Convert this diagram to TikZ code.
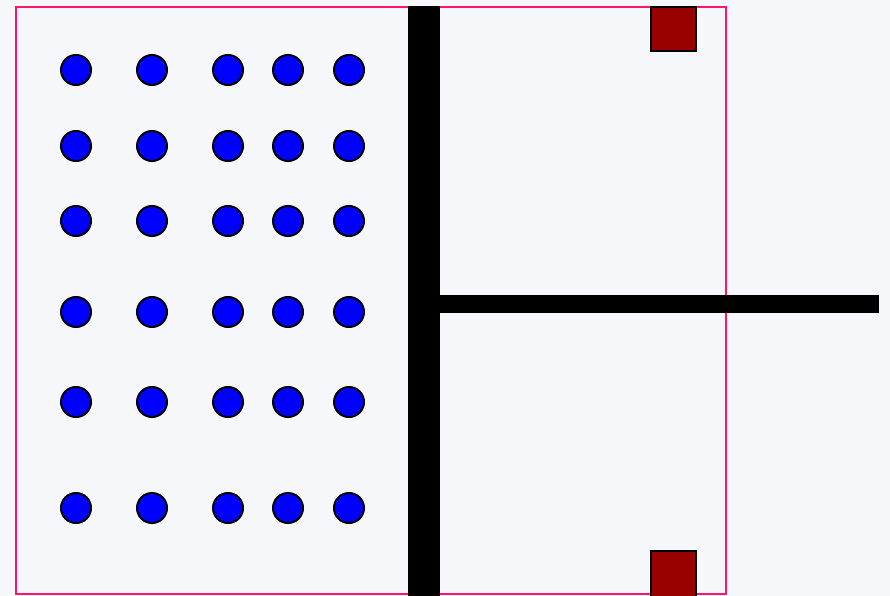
\documentclass[tikz,border=0pt]{standalone}
\begin{document}
\begin{tikzpicture}[x=1pt,y=-1pt,
  dot/.style={circle,draw=black,fill=blue,line width=2pt,minimum size=30pt,inner sep=0pt},
  redsq/.style={draw=black,fill={rgb,255:red,153;green,0;blue,0},line width=2pt},
  wall/.style={fill=black,draw=none}]
\definecolor{bgc}{RGB}{245,247,251}
\definecolor{pinkc}{RGB}{255,20,110}
\fill[bgc] (0,0) rectangle (890,596);
\useasboundingbox (0,0) rectangle (890,596);
\draw[pinkc,line width=2pt] (15.8,6.8) rectangle (726.3,594.3);
\fill[wall] (407.8,5.8) rectangle (440.3,600);
\fill[wall] (440,295) rectangle (879,312.6);
\draw[redsq] (651,6.6) rectangle (696,51.4);
\draw[redsq] (651,550.8) rectangle (696,600);
\foreach \y [count=\r] in {70,146,221,312,402,508}{
  \foreach \x [count=\c] in {76,152,228,288,349}{
    \node[dot] (d\r\c) at (\x,\y) {};
  }
}
\end{tikzpicture}
\end{document}
